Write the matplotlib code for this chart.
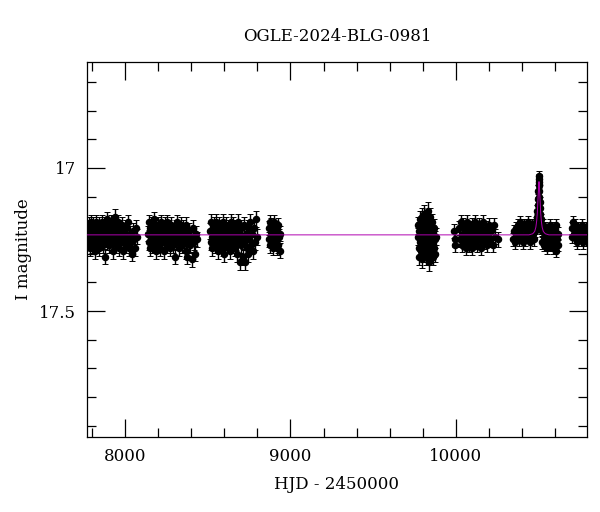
import matplotlib
matplotlib.use("Agg")
import matplotlib.pyplot as plt
from matplotlib.ticker import MultipleLocator

# OGLE photometry, HJD - 2450000 and I magnitude
t1 = [7776, 7779, 7782, 7785, 7788, 7791, 7794, 7797, 7800, 7804,
      7807, 7810, 7813, 7817, 7820, 7823, 7827, 7830, 7834, 7837,
      7841, 7844, 7848, 7851, 7855, 7858, 7862, 7866, 7869, 7873,
      7877, 7880, 7884, 7888, 7892, 7896, 7900, 7904, 7908, 7912,
      7916, 7920, 7924, 7928, 7932, 7936, 7940, 7944, 7948, 7953,
      7957, 7961, 7966, 7970, 7975, 7979, 7984, 7988, 7993, 7998,
      8003, 8008, 8013, 8018, 8023, 8028, 8034, 8040, 8046, 8052,
      8058, 8064, 8070]
m1 = [17.22, 17.26, 17.20, 17.24, 17.28, 17.21, 17.25, 17.19, 17.27, 17.23,
      17.20, 17.26, 17.22, 17.29, 17.24, 17.19, 17.25, 17.21, 17.27, 17.23,
      17.20, 17.28, 17.24, 17.22, 17.26, 17.19, 17.23, 17.27, 17.21, 17.25,
      17.20, 17.31, 17.23, 17.26, 17.18, 17.24, 17.21, 17.27, 17.25, 17.22,
      17.19, 17.26, 17.23, 17.29, 17.20, 17.24, 17.17, 17.27, 17.22, 17.25,
      17.19, 17.28, 17.23, 17.21, 17.26, 17.24, 17.20, 17.29, 17.22, 17.25,
      17.27, 17.21, 17.24, 17.19, 17.28, 17.23, 17.26, 17.30, 17.22, 17.25,
      17.28, 17.21, 17.24]

t2 = [8139, 8142, 8146, 8149, 8153, 8156, 8160, 8163, 8167, 8170,
      8174, 8178, 8181, 8185, 8189, 8192, 8196, 8200, 8204, 8208,
      8212, 8216, 8220, 8224, 8228, 8232, 8236, 8240, 8244, 8248,
      8252, 8256, 8260, 8264, 8268, 8272, 8276, 8280, 8285, 8289,
      8293, 8297, 8302, 8306, 8310, 8315, 8319, 8324, 8328, 8333,
      8337, 8342, 8346, 8351, 8356, 8361, 8366, 8371, 8376, 8381,
      8386, 8392, 8398, 8404, 8410, 8416, 8422, 8428, 8434]
m2 = [17.23, 17.19, 17.26, 17.21, 17.28, 17.24, 17.20, 17.27, 17.22, 17.25,
      17.18, 17.26, 17.23, 17.29, 17.21, 17.24, 17.27, 17.20, 17.25, 17.22,
      17.28, 17.19, 17.24, 17.26, 17.21, 17.23, 17.29, 17.20, 17.25, 17.22,
      17.27, 17.19, 17.24, 17.26, 17.21, 17.28, 17.23, 17.20, 17.25, 17.22,
      17.27, 17.24, 17.31, 17.21, 17.26, 17.19, 17.23, 17.28, 17.22, 17.25,
      17.20, 17.27, 17.24, 17.21, 17.26, 17.23, 17.29, 17.20, 17.31, 17.25,
      17.22, 17.27, 17.24, 17.32, 17.21, 17.26, 17.30, 17.23, 17.25]

t3 = [8514, 8517, 8521, 8524, 8528, 8531, 8535, 8538, 8542, 8545,
      8549, 8553, 8556, 8560, 8564, 8567, 8571, 8575, 8579, 8583,
      8587, 8591, 8595, 8598, 8602, 8606, 8610, 8614, 8618, 8622,
      8626, 8630, 8634, 8638, 8642, 8646, 8650, 8654, 8658, 8662,
      8666, 8670, 8674, 8679, 8683, 8687, 8691, 8695, 8700, 8704,
      8708, 8713, 8717, 8722, 8726, 8731, 8736, 8741, 8746, 8751,
      8756, 8761, 8766, 8772, 8778, 8784, 8790, 8796]
m3 = [17.22, 17.26, 17.19, 17.24, 17.28, 17.21, 17.25, 17.20, 17.27, 17.23,
      17.19, 17.26, 17.22, 17.29, 17.24, 17.20, 17.27, 17.23, 17.21, 17.26,
      17.24, 17.19, 17.28, 17.30, 17.22, 17.25, 17.20, 17.27, 17.23, 17.26,
      17.21, 17.24, 17.29, 17.19, 17.25, 17.22, 17.27, 17.20, 17.24, 17.28,
      17.21, 17.26, 17.23, 17.30, 17.19, 17.25, 17.22, 17.33, 17.27, 17.21,
      17.24, 17.31, 17.20, 17.26, 17.33, 17.23, 17.28, 17.21, 17.30, 17.25,
      17.19, 17.27, 17.23, 17.29, 17.21, 17.26, 17.18, 17.24]

t4 = [8868, 8871, 8875, 8878, 8882, 8885, 8889, 8892, 8896, 8899,
      8903, 8906, 8910, 8913, 8917, 8920, 8924, 8927, 8931, 8934, 8938]
m4 = [17.21, 17.25, 17.19, 17.27, 17.23, 17.20, 17.26, 17.22, 17.28, 17.24,
      17.19, 17.26, 17.21, 17.25, 17.28, 17.22, 17.20, 17.27, 17.24, 17.29, 17.23]

t5 = [9772, 9774, 9776, 9778, 9780, 9782, 9784, 9786, 9788, 9790,
      9792, 9794, 9796, 9798, 9800, 9802, 9804, 9806, 9808, 9810,
      9812, 9814, 9816, 9818, 9820, 9822, 9824, 9826, 9828, 9830,
      9832, 9834, 9836, 9838, 9840, 9842, 9844, 9846, 9848, 9850,
      9852, 9855, 9858, 9861, 9864, 9867, 9870, 9873, 9876, 9880]
m5 = [17.24, 17.20, 17.28, 17.22, 17.31, 17.18, 17.26, 17.23, 17.29, 17.21,
      17.25, 17.17, 17.27, 17.32, 17.22, 17.19, 17.30, 17.24, 17.16, 17.27,
      17.21, 17.29, 17.25, 17.18, 17.31, 17.23, 17.20, 17.28, 17.26, 17.15,
      17.22, 17.30, 17.19, 17.25, 17.33, 17.21, 17.27, 17.17, 17.24, 17.29,
      17.22, 17.26, 17.19, 17.31, 17.23, 17.28, 17.21, 17.25, 17.30, 17.24]

t6 = [9992, 9994, 9996, 10020, 10026, 10031, 10036, 10041, 10045, 10050,
      10054, 10059, 10063, 10068, 10072, 10077, 10081, 10086, 10090, 10095,
      10100, 10104, 10109, 10114, 10119, 10124, 10129, 10134, 10139, 10144,
      10150, 10156, 10162, 10168, 10174, 10180, 10187, 10194, 10201, 10208,
      10215, 10222, 10230, 10238, 10256]
m6 = [17.22, 17.25, 17.27, 17.21, 17.25, 17.19, 17.27, 17.23, 17.20, 17.26,
      17.22, 17.28, 17.24, 17.19, 17.26, 17.21, 17.27, 17.23, 17.25, 17.20,
      17.28, 17.22, 17.24, 17.19, 17.26, 17.21, 17.27, 17.23, 17.20, 17.25,
      17.28, 17.22, 17.19, 17.26, 17.24, 17.21, 17.27, 17.23, 17.20, 17.25,
      17.22, 17.27, 17.20, 17.24, 17.25]

# 2024 season: before the event, the event itself, after it
t7a = [10346, 10352, 10358, 10363, 10369, 10374, 10380, 10385, 10391, 10396,
       10401, 10406, 10411, 10416, 10421, 10426, 10431, 10436, 10441, 10446,
       10451, 10456, 10461, 10466, 10471, 10476, 10481]
m7a = [17.25, 17.22, 17.26, 17.21, 17.24, 17.20, 17.25, 17.22, 17.19, 17.24,
       17.21, 17.26, 17.20, 17.23, 17.25, 17.21, 17.24, 17.19, 17.23, 17.26,
       17.21, 17.24, 17.20, 17.23, 17.25, 17.21, 17.22]

t7b = [10486, 10489, 10491, 10493, 10495, 10497, 10499, 10500, 10501, 10502,
       10503, 10504, 10505, 10506, 10507, 10509, 10511, 10513, 10515, 10517]
m7b = [17.19, 17.17, 17.18, 17.15, 17.13, 17.11, 17.08, 17.06, 17.04, 17.05,
       17.03, 17.06, 17.08, 17.10, 17.12, 17.14, 17.16, 17.18, 17.20, 17.21]

t7c = [10520, 10524, 10528, 10532, 10536, 10540, 10544, 10548, 10552, 10556,
       10560, 10564, 10568, 10572, 10576, 10580, 10584, 10588, 10592, 10596,
       10600, 10604, 10608, 10612, 10616, 10620]
m7c = [17.22, 17.26, 17.20, 17.24, 17.27, 17.21, 17.25, 17.23, 17.28, 17.22,
       17.26, 17.24, 17.20, 17.27, 17.23, 17.25, 17.21, 17.28, 17.24, 17.26,
       17.22, 17.29, 17.20, 17.25, 17.23, 17.27]

t8 = [10700, 10705, 10710, 10715, 10720, 10725, 10730, 10735, 10740, 10745,
      10750, 10755, 10760, 10765, 10770, 10775, 10780, 10785, 10790]
m8 = [17.21, 17.24, 17.19, 17.23, 17.20, 17.25, 17.22, 17.26, 17.21, 17.24,
      17.22, 17.25, 17.20, 17.23, 17.26, 17.22, 17.24, 17.21, 17.25]

# typical photometric error per season
season_err = [0.027, 0.027, 0.028, 0.026, 0.030, 0.025, 0.022, 0.020, 0.022, 0.022]

# point-lens model
model_t = [7770, 10443, 10465, 10477, 10484, 10489, 10493, 10496, 10499, 10501, 10503,
           10505, 10507, 10510, 10513, 10517, 10522, 10529, 10541, 10563, 10792]
model_m = [17.234, 17.234, 17.230, 17.222, 17.207, 17.185, 17.155, 17.12, 17.085, 17.06, 17.048,
           17.06, 17.085, 17.12, 17.155, 17.185, 17.207, 17.222, 17.230, 17.234, 17.234]


def main():
    plt.rcParams['font.family'] = 'DejaVu Serif'
    fig = plt.figure(figsize=(6.0, 5.12), dpi=100)
    ax = fig.add_axes([0.145, 0.1465, 0.833, 0.7325])

    seasons = [(t1, m1), (t2, m2), (t3, m3), (t4, m4), (t5, m5), (t6, m6),
               (t7a, m7a), (t7b, m7b), (t7c, m7c), (t8, m8)]
    for (t, m), err in zip(seasons, season_err):
        ax.errorbar(t, m, yerr=err, fmt='o', color='black', ms=4.4,
                    elinewidth=1.0, capsize=2.4, capthick=0.7, ecolor='black')

    ax.plot(model_t, model_m, color='#b000b0', lw=0.7, zorder=5)

    ax.set_xlim(7770, 10792)
    ax.set_ylim(17.94, 16.63)
    ax.xaxis.set_major_locator(MultipleLocator(1000))
    ax.xaxis.set_minor_locator(MultipleLocator(200))
    ax.yaxis.set_minor_locator(MultipleLocator(0.1))
    ax.set_yticks([17, 17.5])
    ax.set_yticklabels(['17', '17.5'])
    ax.tick_params(which='both', direction='in', top=True, right=True,
                   labelsize=12, width=0.9)
    ax.tick_params(which='major', length=13, pad=8)
    ax.tick_params(which='minor', length=6.5)
    for s in ax.spines.values():
        s.set_linewidth(0.9)

    ax.set_title('OGLE-2024-BLG-0981', fontsize=12, pad=15)
    ax.set_xlabel('HJD - 2450000', fontsize=12, labelpad=8)
    ax.set_ylabel('I magnitude', fontsize=12, labelpad=5)

    fig.savefig('out.png', dpi=100)


if __name__ == "__main__":
    main()
